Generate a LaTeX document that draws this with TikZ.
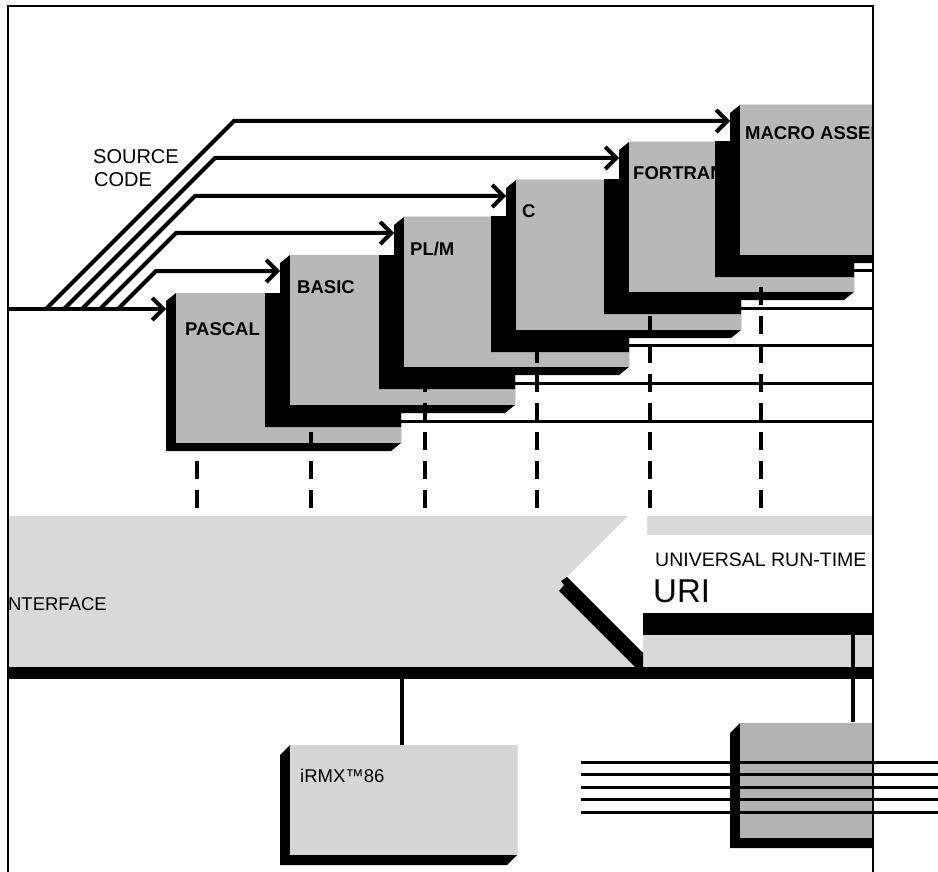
\documentclass[tikz,border=0pt]{standalone}
\usepackage{fontspec}
\setmainfont{Liberation Sans}
\usetikzlibrary{arrows.meta,calc}
\definecolor{facegray}{gray}{0.72}
\definecolor{bandgray}{gray}{0.85}
\definecolor{rmxgray}{gray}{0.84}
\definecolor{iogray}{gray}{0.70}
\newcommand\hullfill[3]{\fill[black] (#1.north west) -- ($(#1.north west)+(#2,#3)$) -- ($(#1.south west)+(#2,#3)$) -- ($(#1.south east)+(#2,#3)$) -- (#1.south east) -- (#1.north east) -- cycle;}
\newcommand\facefill[2]{\fill[#2] (#1.north west) rectangle (#1.south east);}
\newcommand\dropon[2]{\begin{scope}\clip (#2.north west) rectangle (#2.south east);\hullfill{#1}{-25}{22}\end{scope}}
\begin{document}
\begin{tikzpicture}[x=1pt,y=-1pt,
  facegeom/.style={minimum width=225pt,minimum height=150pt,anchor=north west,inner sep=0pt,outer sep=0pt},
  lbl/.style={anchor=base west,inner sep=0pt,font=\fontsize{18.5}{20}\selectfont\bfseries},
  txt/.style={anchor=base west,inner sep=0pt,font=\fontsize{20}{22}\selectfont},
  wire/.style={line width=3pt},
  vwire/.style={line width=3.5pt},
  src/.style={line width=4pt,-{Straight Barb[length=11pt,width=22pt]}},
  dashcol/.style={line width=4pt,dash pattern=on 18pt off 11pt},
  framel/.style={line width=2pt},
  blackbar/.style={fill=black,anchor=north west,inner sep=0pt,outer sep=0pt}
]
\useasboundingbox (0,0) rectangle (938,872);
\coordinate (fr) at (873,0);
\coordinate (dbase) at (0,508);
\coordinate (c853) at (853,0);
\coordinate (c402) at (402,0);
% geometry of boxes
\node[facegeom] (pas) at (176,293) {};
\node[facegeom] (bas) at (290,255) {};
\node[facegeom] (plm) at (404,217) {};
\node[facegeom] (cc) at (516,180) {};
\node[facegeom] (fort) at (629,142) {};
\node[facegeom] (macro) at (740,105) {};
\node[facegeom,minimum width=227pt,minimum height=110pt] (rmx) at (290,745) {};
\node[facegeom,minimum width=150pt,minimum height=115pt] (io) at (740,723) {};
\begin{scope}
\clip (9,7) rectangle (872,872);
% interface band
\fill[bandgray] (9,516) rectangle (873,667);
\node[txt,anchor=base east,font=\fontsize{18.5}{20}\selectfont] (iface) at (107,610) {INTERFACE};
% URI
\fill[white] (567,577) -- (628,516) -- (647,516) -- (647,535) -- (873,535) -- (873,613) -- (643,613) -- (643,653) -- cycle;
\fill[black] (567,577) -- (643,653) -- (643,667) -- (635,667) -- (559,591) -- (564,585) -- (561,581) -- cycle;
\node[blackbar,minimum width=231pt,minimum height=22pt] (uribar) at (643,613) {};
\node[txt,font=\fontsize{19.5}{22}\selectfont] (urt) at (655,566) {UNIVERSAL RUN-TIME};
\node[txt,font=\fontsize{33}{36}\selectfont] (uri) at (653,602) {URI};
% bus
\node[blackbar,minimum width=866pt,minimum height=12pt] (bus) at (8,667) {};
% compiler boxes
\hullfill{pas}{-10}{8}\facefill{pas}{facegray}
\node[lbl] (paslbl) at (185,335) {PASCAL};
\dropon{bas}{pas}\hullfill{bas}{-10}{8}\facefill{bas}{facegray}
\node[lbl] (baslbl) at (297,293) {BASIC};
\dropon{plm}{bas}\hullfill{plm}{-10}{8}\facefill{plm}{facegray}
\node[lbl] (plmlbl) at (410,255) {PL/M};
\dropon{cc}{plm}\hullfill{cc}{-10}{8}\facefill{cc}{facegray}
\node[lbl] (cclbl) at (522,218) {C};
\dropon{fort}{cc}\hullfill{fort}{-10}{8}\facefill{fort}{facegray}
\node[lbl] (fortlbl) at (633,180) {FORTRAN};
\dropon{macro}{fort}\hullfill{macro}{-10}{8}\facefill{macro}{facegray}
\node[lbl] (macrolbl) at (745,140) {MACRO ASSEMBLER};
% output lines
\foreach \n in {pas,bas,plm,cc,fort}{
  \coordinate (\n-out) at ($(\n.south east)+(0,-22)$);
  \draw[wire] (\n-out) -- (\n-out -| fr);
}
% dashed lines
\foreach \n in {pas,bas,plm,cc,fort,macro}{
  \coordinate (\n-dt) at ($(\n.south west)+(21,0)$);
  \coordinate (\n-db) at (\n-dt |- dbase);
  \draw[dashcol] (\n-db) -- (\n-dt);
}
% source code inputs
\foreach \n in {pas,bas,plm,cc,fort,macro}{
  \coordinate (\n-in) at ($(\n.north west)+(-10,16)$);
}
\coordinate (leftin) at (8,309);
\draw[src] (leftin) -- (pas-in);
\foreach \n/\s/\r in {bas/118/38, plm/100/76, cc/82/113, fort/64/151, macro/46/188}{
  \draw[src] (\s,309) -- ++(\r,-\r) -- (\n-in);
}
\node[txt] (src1) at (93,164) {SOURCE};
\node[txt] (src2) at (94,186) {CODE};
% iRMX box
\hullfill{rmx}{-10}{10}\facefill{rmx}{rmxgray}
\node[txt,font=\fontsize{18.5}{20}\selectfont] (rmxlbl) at (300,782) {iRMX™86};
\draw[vwire] (bus.south -| c402) -- (rmx.north -| c402);
% io box
\hullfill{io}{-10}{10}\facefill{io}{iogray}
\draw[vwire] (uribar.south -| c853) -- ($(io.north -| c853)+(0,-1)$);
\end{scope}
% io lines
\foreach \yy [count=\i] in {762,774,787,799,812}{
  \coordinate (iol\i) at (581,\yy);
  \coordinate (ior\i) at (938,\yy);
  \draw[wire] (iol\i) -- (ior\i);
}
% frame
\coordinate (fa) at (8,872);
\coordinate (fb) at (8,6);
\coordinate (fc) at (873,6);
\coordinate (fd) at (873,872);
\draw[framel] (fa) -- (fb) -- (fc) -- (fd);
\end{tikzpicture}
\end{document}
